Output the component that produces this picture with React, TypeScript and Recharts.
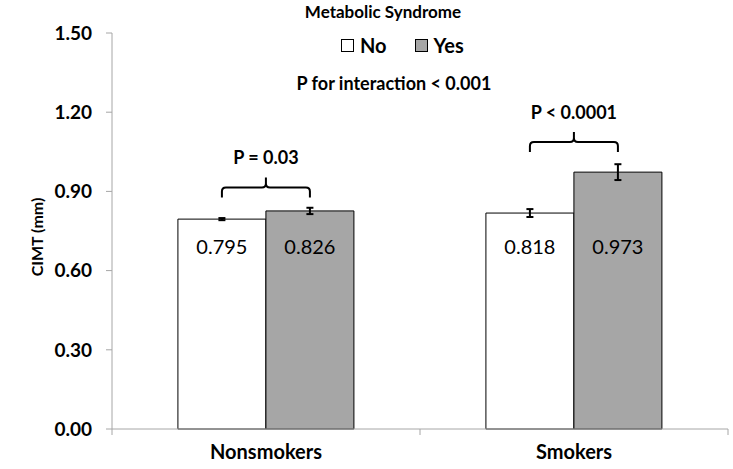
import React from "react";
import { BarChart, Bar, XAxis, YAxis, ErrorBar, LabelList } from "recharts";

const categories = ["Nonsmokers", "Smokers"];
const noValues = [0.795, 0.818];
const yesValues = [0.826, 0.973];
const noErrors = [0.004, 0.015];
const yesErrors = [0.012, 0.03];
const yTicks = [0, 0.3, 0.6, 0.9, 1.2, 1.5];
const pLabels = ["P = 0.03", "P < 0.0001"];
const bracketLevels = [0.915, 1.087];
const labelLevel = 0.695;

const data = categories.map((c, i) => ({
  name: c,
  no: noValues[i],
  yes: yesValues[i],
  noErr: noErrors[i],
  yesErr: yesErrors[i],
}));

const FONT = "Lato, 'DejaVu Sans', sans-serif";
const AXIS_COLOR = "#a6a6a6";

function geom(props: any) {
  const vb = props.viewBox || {};
  const x = props.x ?? vb.x;
  const y = props.y ?? vb.y;
  const width = props.width ?? vb.width;
  const height = props.height ?? vb.height;
  return { x: Number(x), y: Number(y), width: Number(width), height: Number(height) };
}

const ValueLabel = (props: any) => {
  const { x, y, width, height } = geom(props);
  const value = Number(props.value);
  const base = y + height;
  const ppu = height / value;
  const ly = base - labelLevel * ppu;
  return (
    <text
      x={x + width / 2}
      y={ly}
      textAnchor="middle"
      dominantBaseline="central"
      fontFamily={FONT}
      fontSize={20}
      fill="#000"
    >
      {value.toFixed(3)}
    </text>
  );
};

const Bracket = (props: any) => {
  const { x, y, width, height } = geom(props);
  const value = Number(props.value);
  const idx = Number(props.index);
  const base = y + height;
  const ppu = height / value;
  const yH = base - bracketLevels[idx] * ppu;
  const xl = x - width / 2;
  const xr = x + width / 2;
  const xc = (xl + xr) / 2;
  const r = 4;
  const d = [
    `M ${xl} ${yH + 10}`,
    `L ${xl} ${yH + r}`,
    `Q ${xl} ${yH} ${xl + r} ${yH}`,
    `L ${xc - r} ${yH}`,
    `Q ${xc} ${yH} ${xc} ${yH - r}`,
    `L ${xc} ${yH - 10}`,
    `M ${xc} ${yH - r}`,
    `Q ${xc} ${yH} ${xc + r} ${yH}`,
    `L ${xr - r} ${yH}`,
    `Q ${xr} ${yH} ${xr} ${yH + r}`,
    `L ${xr} ${yH + 10}`,
  ].join(" ");
  return (
    <g>
      <path d={d} fill="none" stroke="#000" strokeWidth={2} />
      <text
        x={xc}
        y={yH - 30}
        textAnchor="middle"
        dominantBaseline="central"
        fontFamily={FONT}
        fontWeight={700}
        fontSize={18}
        fill="#000"
      >
        {pLabels[idx]}
      </text>
    </g>
  );
};

const XTick = (props: any) => {
  const { x, y, payload, index, visibleTicksCount } = props;
  const off = payload && payload.offset ? payload.offset : 154;
  const axisY = y - 16;
  const isLast = index === (visibleTicksCount ?? categories.length) - 1;
  return (
    <g>
      <line x1={x - off} y1={axisY} x2={x - off} y2={axisY + 6} stroke={AXIS_COLOR} />
      {isLast && (
        <line x1={x + off} y1={axisY} x2={x + off} y2={axisY + 6} stroke={AXIS_COLOR} />
      )}
      <text
        x={x}
        y={axisY + 22}
        textAnchor="middle"
        dominantBaseline="central"
        fontFamily={FONT}
        fontWeight={700}
        fontSize={20}
        fill="#000"
      >
        {payload.value}
      </text>
    </g>
  );
};

const YLabel = (props: any) => {
  const vb = props.viewBox || { x: 0, y: 33, width: 112, height: 396 };
  const cx = vb.x + 36;
  const cy = vb.y + vb.height / 2 + 6;
  return (
    <text
      x={cx}
      y={cy}
      transform={`rotate(-90, ${cx}, ${cy})`}
      textAnchor="middle"
      dominantBaseline="central"
      fontFamily={FONT}
      fontWeight={700}
      fontSize={16}
      fill="#000"
    >
      CIMT (mm)
    </text>
  );
};

export default function App() {
  return (
    <div style={{ position: "absolute", left: 0, top: 0, width: 733, height: 469, background: "#fff" }}>
      <BarChart
        width={733}
        height={469}
        data={data}
        margin={{ top: 33, right: 5, left: 0, bottom: 0 }}
        barCategoryGap="21.4%"
        barGap={0}
      >
        <XAxis
          dataKey="name"
          height={40}
          tickLine={false}
          tickSize={6}
          tickMargin={10}
          stroke={AXIS_COLOR}
          tick={<XTick />}
        />
        <YAxis
          width={112}
          domain={[0, 1.5]}
          ticks={yTicks}
          tickFormatter={(v: number) => v.toFixed(2)}
          tickSize={6}
          tickMargin={14}
          stroke={AXIS_COLOR}
          tick={{ fill: "#000", fontFamily: FONT, fontWeight: 700, fontSize: 19 }}
          label={<YLabel />}
          interval={0}
        />
        <Bar dataKey="no" fill="#ffffff" stroke="#000" strokeWidth={1} isAnimationActive={false}>
          <ErrorBar dataKey="noErr" width={3.5} stroke="#000" strokeWidth={2} />
          <LabelList dataKey="no" content={<ValueLabel />} />
        </Bar>
        <Bar dataKey="yes" fill="#a6a6a6" stroke="#000" strokeWidth={1} isAnimationActive={false}>
          <ErrorBar dataKey="yesErr" width={3.5} stroke="#000" strokeWidth={2} />
          <LabelList dataKey="yes" content={<ValueLabel />} />
          <LabelList dataKey="yes" content={<Bracket />} />
        </Bar>
      </BarChart>
      <div
        style={{
          position: "absolute",
          left: 0,
          width: 766,
          top: 2,
          textAlign: "center",
          fontFamily: FONT,
          fontWeight: 700,
          fontSize: 17,
          lineHeight: "20px",
          color: "#000",
        }}
      >
        Metabolic Syndrome
      </div>
      <div
        style={{
          position: "absolute",
          left: 341,
          top: 32,
          height: 26,
          display: "flex",
          alignItems: "center",
          fontFamily: FONT,
          fontWeight: 700,
          fontSize: 20,
          color: "#000",
        }}
      >
        <span style={{ display: "inline-block", width: 11, height: 11, border: "1px solid #000", background: "#fff", marginRight: 6 }} />
        <span>No</span>
        <span style={{ display: "inline-block", width: 11, height: 11, border: "1px solid #000", background: "#a6a6a6", marginLeft: 28, marginRight: 6 }} />
        <span>Yes</span>
      </div>
      <div
        style={{
          position: "absolute",
          left: 0,
          width: 788,
          top: 72,
          textAlign: "center",
          fontFamily: FONT,
          fontWeight: 700,
          fontSize: 18,
          lineHeight: "22px",
          color: "#000",
        }}
      >
        P for interaction &lt; 0.001
      </div>
    </div>
  );
}
